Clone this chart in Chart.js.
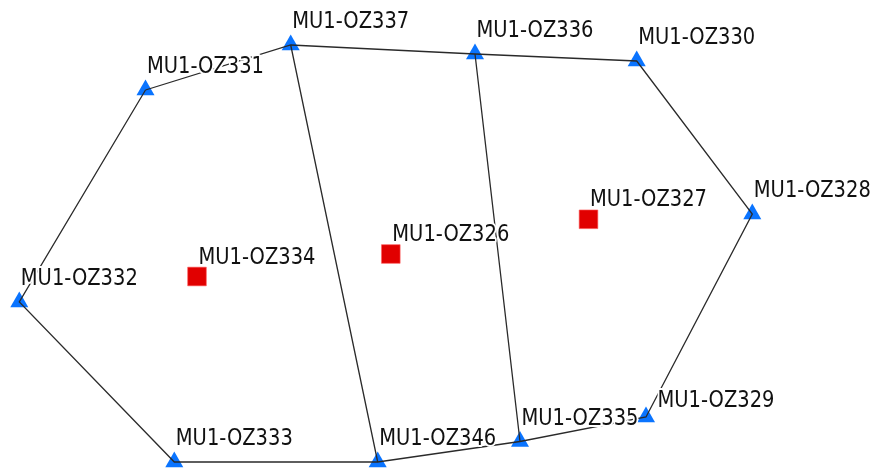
<!DOCTYPE html>
<html>
<head>
<meta charset="utf-8">
<script src="https://cdn.jsdelivr.net/npm/chart.js@4/dist/chart.umd.min.js"></script>
<style>
  html, body { margin: 0; padding: 0; background: #fff; }
  #wrap { width: 875px; height: 469px; }
</style>
</head>
<body>
<div id="wrap"><canvas id="net"></canvas></div>
<script>
// Boundary stations (triangles)
var stationNames = ['MU1-OZ331', 'MU1-OZ337', 'MU1-OZ336', 'MU1-OZ330', 'MU1-OZ328',
                    'MU1-OZ329', 'MU1-OZ335', 'MU1-OZ346', 'MU1-OZ333', 'MU1-OZ332'];
var stationX = [145.5, 290.7, 475, 636.7, 752.3, 646, 520, 377.7, 174.3, 19.3];
var stationY = [90, 45, 54, 61, 214, 417, 441.5, 462, 462, 302];

// Inner points (squares)
var innerNames = ['MU1-OZ334', 'MU1-OZ326', 'MU1-OZ327'];
var innerX = [197, 390.8, 588.5];
var innerY = [276.5, 254, 219.3];

// Cross links between stations
var chords = [['MU1-OZ337', 'MU1-OZ346'], ['MU1-OZ336', 'MU1-OZ335']];

function pt(name) {
    var i = stationNames.indexOf(name);
    return {x: stationX[i], y: stationY[i], name: name};
}

var ring = stationNames.map(pt);
ring.push(pt(stationNames[0]));

var chordPts = [];
chords.forEach(function (c, k) {
    if (k > 0) chordPts.push({x: null, y: null});
    chordPts.push(pt(c[0]));
    chordPts.push(pt(c[1]));
});

var stations = stationNames.map(pt);
var inner = innerNames.map(function (n, i) { return {x: innerX[i], y: innerY[i], name: n}; });

var labelPlugin = {
    id: 'labels',
    afterDatasetsDraw: function (chart) {
        var ctx = chart.ctx;
        ctx.save();
        ctx.font = '22.5px "DejaVu Sans", sans-serif';
        ctx.textAlign = 'left';
        ctx.textBaseline = 'alphabetic';
        ctx.lineJoin = 'round';
        var sx = 117 / ctx.measureText('MU1-OZ337').width;
        [2, 3].forEach(function (di) {
            var ds = chart.data.datasets[di];
            var meta = chart.getDatasetMeta(di);
            meta.data.forEach(function (el, i) {
                var name = ds.data[i].name;
                var dx = 1.5, dy = di === 2 ? -17 : -13;
                if (name === 'MU1-OZ329') { dx = 11.5; dy = -10; }
                ctx.save();
                ctx.translate(el.x + dx, el.y + dy);
                ctx.scale(sx, 1);
                ctx.strokeStyle = '#fff';
                ctx.lineWidth = 4;
                ctx.strokeText(name, 0, 0);
                ctx.fillStyle = '#111';
                ctx.fillText(name, 0, 0);
                ctx.restore();
            });
        });
        ctx.restore();
    }
};

var myChart = new Chart(
    document.getElementById('net'),
    config = {
        type: 'scatter',
        data: {
            datasets: [
                {
                    data: ring,
                    showLine: true,
                    borderColor: '#2a2a2a',
                    borderWidth: 1.3,
                    pointRadius: 0,
                    clip: false,
                },
                {
                    data: chordPts,
                    showLine: true,
                    spanGaps: false,
                    borderColor: '#2a2a2a',
                    borderWidth: 1.3,
                    pointRadius: 0,
                    clip: false,
                },
                {
                    data: stations,
                    pointStyle: 'triangle',
                    pointRadius: 10.4,
                    backgroundColor: '#0a74ff',
                    borderWidth: 0,
                    clip: false,
                },
                {
                    data: inner,
                    pointStyle: 'rect',
                    pointRadius: 13.2,
                    backgroundColor: '#e10000',
                    borderColor: '#ff6060',
                    borderWidth: 0.6,
                    clip: false,
                },
            ]
        },
        options: {
            responsive: true,
            maintainAspectRatio: false,
            animation: false,
            layout: { padding: 0, autoPadding: false },
            scales: {
                x: { type: 'linear', min: 0, max: 875, display: false },
                y: { type: 'linear', min: 0, max: 469, reverse: true, display: false },
            },
            plugins: {
                legend: { display: false },
                tooltip: { enabled: false },
            },
        },
        plugins: [labelPlugin],
    });
</script>
</body>
</html>
